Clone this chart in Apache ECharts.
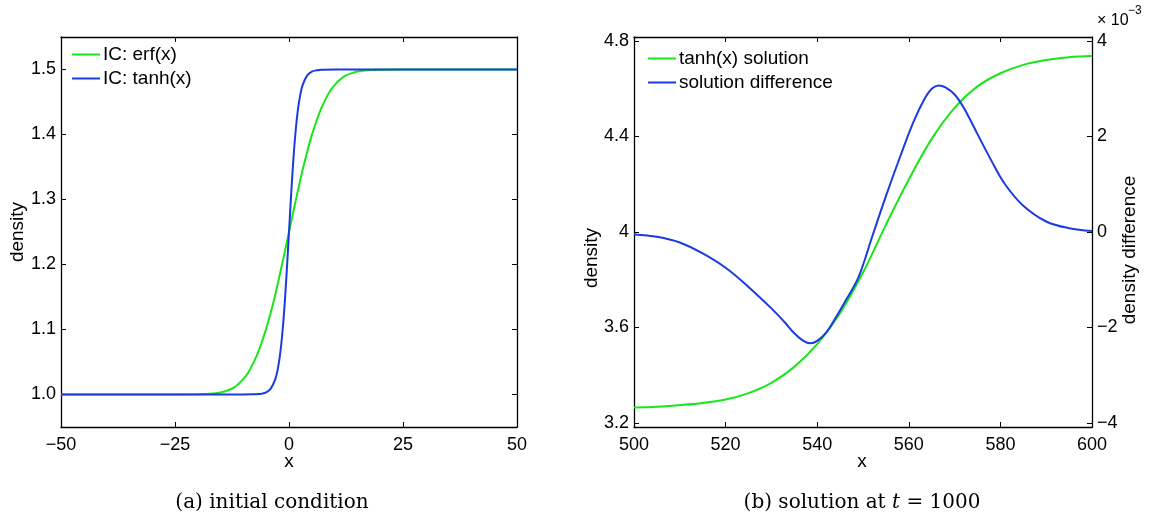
<!DOCTYPE html>
<html><head><meta charset="utf-8">
<script src="https://cdn.jsdelivr.net/npm/echarts@6/dist/echarts.min.js"></script>
<style>html,body{margin:0;padding:0;background:#fff}#c{width:1155px;height:517px}</style>
</head><body><div id="c"></div>
<script>
// ---- data ----
const icErfX = [-50,-30,-20,-16,-14,-12,-10,-9,-8,-7,-6,-5,-4,-3,-2,-1,0,1,2,3,4,5,6,7,8,9,10,12,14,16,20,30,50];
const icErfY = [1.0,1.0,1.0002,1.002,1.005,1.011,1.024,1.033,1.046,1.061,1.080,1.101,1.126,1.154,1.185,1.217,1.25,1.283,1.315,1.346,1.374,1.399,1.420,1.439,1.454,1.467,1.476,1.489,1.495,1.498,1.4998,1.5,1.5];
const icTanhX = [-50,-20,-10,-8,-7,-6,-5,-4,-3,-2.5,-2,-1.5,-1,-0.5,0,0.5,1,1.5,2,2.5,3,4,5,6,7,8,10,20,50];
const icTanhY = [1.0,1.0,1.0,1.0002,1.0005,1.0012,1.0033,1.009,1.0237,1.0379,1.0596,1.0912,1.1345,1.1888,1.25,1.3112,1.3655,1.4088,1.4404,1.4621,1.4763,1.491,1.4967,1.4988,1.4995,1.4998,1.5,1.5,1.5];
const solX = [500,505,510,515,520,525,530,535,540,545,550,555,560,565,570,575,580,585,590,595,600];
const solY = [3.265,3.268,3.275,3.284,3.298,3.325,3.368,3.435,3.53,3.66,3.83,4.03,4.22,4.39,4.52,4.61,4.665,4.70,4.72,4.732,4.737];
const diffX = [500,505,510,515,520,525,530,533,535,537,538.5,540,542,544,546,549,552,555,558,561,563.5,565,566.5,568,570,572,575,578,581,585,590,595,600];
const diffY = [-0.05,-0.1,-0.22,-0.45,-0.75,-1.15,-1.6,-1.9,-2.12,-2.28,-2.33,-2.28,-2.1,-1.8,-1.47,-0.95,-0.1,0.75,1.55,2.3,2.8,3.0,3.07,3.03,2.88,2.6,2.05,1.5,1.0,0.55,0.22,0.08,0.02]; // x 10^-3
const icTicksY = [1.0,1.1,1.2,1.3,1.4,1.5];
const solTicksY = [3.2,3.6,4.0,4.4,4.8];
const diffTicks = [-4,-2,0,2,4];

const pairs = (xs, ys) => xs.map((x, i) => [x, ys[i]]);
const minus = v => String(v).replace('-', '\u2212');
const GREEN = '#19e619', BLUE = '#1a3be0';
const FONT = 'Liberation Sans';
const axisBase = (show) => ({
  axisLine: {show: true, onZero: false, lineStyle: {color: '#000', width: 1.3}},
  axisTick: {show: true, inside: true, length: 5, lineStyle: {color: '#000', width: 1}},
  splitLine: {show: false},
  axisLabel: {show: show, color: '#000', fontFamily: FONT, fontSize: 18}
});
function xAx(grid, pos, min, max, interval, show) {
  const a = axisBase(show);
  return Object.assign(a, {type: 'value', gridIndex: grid, position: pos, min, max, interval,
    axisLabel: Object.assign(a.axisLabel, {margin: 9, formatter: v => minus(v)})});
}
function yAx(grid, pos, min, max, ticks, show, fmt) {
  const a = axisBase(show);
  a.axisTick.customValues = ticks;
  return Object.assign(a, {type: 'value', gridIndex: grid, position: pos, min, max,
    axisLabel: Object.assign(a.axisLabel, {margin: 5, customValues: ticks, formatter: fmt})});
}
const line = (name, data, color, xi, yi) => ({
  name, type: 'line', data, xAxisIndex: xi, yAxisIndex: yi, showSymbol: false, symbol: 'none',
  smooth: 0.35, lineStyle: {color, width: 2}, itemStyle: {color}, z: 3
});

const chart = echarts.init(document.getElementById('c'), null, {renderer: 'canvas'});
chart.setOption({
  animation: false,
  backgroundColor: '#fff',
  grid: [
    {left: 61, top: 37, width: 456, height: 390},
    {left: 634, top: 37, width: 458, height: 390}
  ],
  xAxis: [
    xAx(0, 'bottom', -50, 50, 25, true),
    xAx(0, 'top', -50, 50, 25, false),
    xAx(1, 'bottom', 500, 600, 20, true),
    xAx(1, 'top', 500, 600, 20, false)
  ],
  yAxis: [
    yAx(0, 'left', 0.95, 1.55, icTicksY, true, v => v.toFixed(1)),
    yAx(0, 'right', 0.95, 1.55, icTicksY, false, v => v.toFixed(1)),
    yAx(1, 'left', 3.1832, 4.8168, solTicksY, true, v => (Math.round(v * 10) / 10 === 4 ? '4' : v.toFixed(1))),
    yAx(1, 'right', -4.084, 4.084, diffTicks, true, v => minus(Math.round(v)))
  ],
  legend: [
    {data: ['IC: erf(x)', 'IC: tanh(x)'], left: 67, top: 40, orient: 'vertical', itemGap: 5,
     itemWidth: 28, itemHeight: 2, icon: 'rect', selectedMode: false,
     textStyle: {fontFamily: FONT, fontSize: 19, color: '#000', padding: [0, 0, 0, -2]}},
    {data: ['tanh(x) solution', 'solution difference'], left: 643, top: 44, orient: 'vertical', itemGap: 5,
     itemWidth: 28, itemHeight: 2, icon: 'rect', selectedMode: false,
     textStyle: {fontFamily: FONT, fontSize: 19, color: '#000', padding: [0, 0, 0, -2]}}
  ],
  series: [
    line('IC: erf(x)', pairs(icErfX, icErfY), GREEN, 0, 0),
    line('IC: tanh(x)', pairs(icTanhX, icTanhY), BLUE, 0, 0),
    line('tanh(x) solution', pairs(solX, solY), GREEN, 2, 2),
    line('solution difference', pairs(diffX, diffY), BLUE, 2, 3)
  ],
  graphic: [
    {type: 'text', x: 18, y: 232, rotation: Math.PI / 2, style: {text: 'density', font: '19px "Liberation Sans"', fill: '#000', align: 'center', verticalAlign: 'middle'}},
    {type: 'text', x: 592, y: 258, rotation: Math.PI / 2, style: {text: 'density', font: '19px "Liberation Sans"', fill: '#000', align: 'center', verticalAlign: 'middle'}},
    {type: 'text', x: 1130, y: 250, rotation: Math.PI / 2, style: {text: 'density difference', font: '19px "Liberation Sans"', fill: '#000', align: 'center', verticalAlign: 'middle'}},
    {type: 'text', x: 289, y: 462, style: {text: 'x', font: '19px "Liberation Sans"', fill: '#000', align: 'center', verticalAlign: 'middle'}},
    {type: 'text', x: 862, y: 462, style: {text: 'x', font: '19px "Liberation Sans"', fill: '#000', align: 'center', verticalAlign: 'middle'}},
    {type: 'text', x: 1097, y: 21, style: {text: '\u00d7 10', font: '16px "Liberation Sans"', fill: '#000', align: 'left', verticalAlign: 'middle'}},
    {type: 'text', x: 1128, y: 11, style: {text: '\u22123', font: '12px "Liberation Sans"', fill: '#000', align: 'left', verticalAlign: 'middle'}},
    {type: 'text', x: 272, y: 503, style: {text: '(a) initial condition', font: '20px "DejaVu Serif"', fill: '#000', align: 'center', verticalAlign: 'middle'}},
    {type: 'text', x: 862, y: 503, style: {
      text: '{n|(b) solution at }{i|t}{n| = 1000}', align: 'center', verticalAlign: 'middle',
      rich: {n: {font: '20px "DejaVu Serif"', fill: '#000'}, i: {font: 'italic 20px "DejaVu Serif"', fill: '#000'}}
    }}
  ]
});
</script></body></html>
